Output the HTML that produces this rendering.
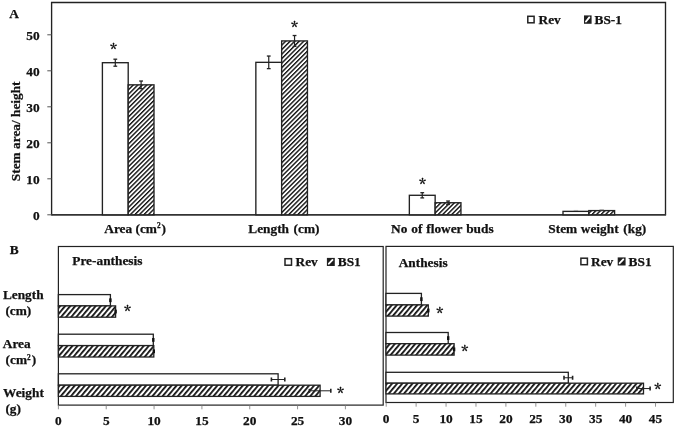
<!DOCTYPE html>
<html><head><meta charset="utf-8"><title>Stem traits chart</title>
<style>html,body{margin:0;padding:0;background:#fff;width:676px;height:428px;overflow:hidden}svg{display:block} text{stroke:#111;stroke-width:0.25px}</style>
</head><body>
<svg width="676" height="428" viewBox="0 0 676 428" font-family='"Liberation Serif", "Times New Roman", serif' fill="#111" stroke-linecap="butt">
<defs>
<pattern id="hatch" patternUnits="userSpaceOnUse" width="3.2" height="10" patternTransform="rotate(45)">
<rect width="3.2" height="10" fill="#fff"/><rect width="1.4" height="10" fill="#111"/></pattern>
<pattern id="hatchB" patternUnits="userSpaceOnUse" width="3.9" height="10" patternTransform="rotate(40)">
<rect width="3.9" height="10" fill="#fff"/><rect width="1.8" height="10" fill="#111"/></pattern>
</defs>
<path d="M51.6,215.4 L51.6,2.5 L665.5,2.5 L665.5,214.8" fill="none" stroke="#222" stroke-width="1.35" stroke-linejoin="miter"/>
<line x1="51.60" y1="214.90" x2="666.10" y2="214.90" stroke="#333" stroke-width="1.6"/>
<line x1="47.30" y1="214.80" x2="51.60" y2="214.80" stroke="#555" stroke-width="1.0"/>
<text x="39.60" y="219.50" text-anchor="end" font-size="13.33" font-weight="bold" >0</text>
<line x1="47.30" y1="178.80" x2="51.60" y2="178.80" stroke="#555" stroke-width="1.0"/>
<text x="39.60" y="183.50" text-anchor="end" font-size="13.33" font-weight="bold" >10</text>
<line x1="47.30" y1="142.80" x2="51.60" y2="142.80" stroke="#555" stroke-width="1.0"/>
<text x="39.60" y="147.50" text-anchor="end" font-size="13.33" font-weight="bold" >20</text>
<line x1="47.30" y1="106.80" x2="51.60" y2="106.80" stroke="#555" stroke-width="1.0"/>
<text x="39.60" y="111.50" text-anchor="end" font-size="13.33" font-weight="bold" >30</text>
<line x1="47.30" y1="70.80" x2="51.60" y2="70.80" stroke="#555" stroke-width="1.0"/>
<text x="39.60" y="75.50" text-anchor="end" font-size="13.33" font-weight="bold" >40</text>
<line x1="47.30" y1="34.80" x2="51.60" y2="34.80" stroke="#555" stroke-width="1.0"/>
<text x="39.60" y="39.50" text-anchor="end" font-size="13.33" font-weight="bold" >50</text>
<text x="0.00" y="0.00" text-anchor="middle" font-size="13.33" font-weight="bold" transform="translate(19.8,131.3) rotate(-90)">Stem area/ height</text>
<text x="9.30" y="18.00" text-anchor="start" font-size="13.33" font-weight="bold" >A</text>
<rect x="527.80" y="16.30" width="6.30" height="6.50" fill="#fff" stroke="#222" stroke-width="1.5"/>
<text x="538.50" y="23.70" text-anchor="start" font-size="13.33" font-weight="bold" >Rev</text>
<rect x="584.80" y="16.20" width="6.00" height="6.80" fill="#1a1a1a" stroke="#222" stroke-width="1.6"/>
<line x1="586.00" y1="21.50" x2="589.30" y2="17.40" stroke="#fff" stroke-width="1.9" stroke-linecap="round"/>
<text x="594.50" y="23.70" text-anchor="start" font-size="13.33" font-weight="bold" >BS-1</text>
<rect x="102.40" y="62.70" width="25.80" height="152.10" fill="#fff" stroke="#222" stroke-width="1.35"/>
<rect x="128.20" y="84.84" width="25.80" height="129.96" fill="url(#hatch)" stroke="#222" stroke-width="1.35"/>
<line x1="115.30" y1="59.20" x2="115.30" y2="66.20" stroke="#222" stroke-width="1.2"/>
<line x1="113.40" y1="59.20" x2="117.20" y2="59.20" stroke="#222" stroke-width="1.3"/>
<line x1="113.40" y1="66.20" x2="117.20" y2="66.20" stroke="#222" stroke-width="1.3"/>
<line x1="141.10" y1="81.04" x2="141.10" y2="88.64" stroke="#222" stroke-width="1.2"/>
<line x1="139.20" y1="81.04" x2="143.00" y2="81.04" stroke="#222" stroke-width="1.3"/>
<line x1="139.20" y1="88.64" x2="143.00" y2="88.64" stroke="#222" stroke-width="1.3"/>
<rect x="255.85" y="62.34" width="25.80" height="152.46" fill="#fff" stroke="#222" stroke-width="1.35"/>
<rect x="281.65" y="40.92" width="25.80" height="173.88" fill="url(#hatch)" stroke="#222" stroke-width="1.35"/>
<line x1="268.75" y1="56.04" x2="268.75" y2="68.64" stroke="#222" stroke-width="1.2"/>
<line x1="266.85" y1="56.04" x2="270.65" y2="56.04" stroke="#222" stroke-width="1.3"/>
<line x1="266.85" y1="68.64" x2="270.65" y2="68.64" stroke="#222" stroke-width="1.3"/>
<line x1="294.55" y1="35.52" x2="294.55" y2="46.32" stroke="#222" stroke-width="1.2"/>
<line x1="292.65" y1="35.52" x2="296.45" y2="35.52" stroke="#222" stroke-width="1.3"/>
<line x1="292.65" y1="46.32" x2="296.45" y2="46.32" stroke="#222" stroke-width="1.3"/>
<rect x="409.35" y="195.29" width="25.80" height="19.51" fill="#fff" stroke="#222" stroke-width="1.35"/>
<rect x="435.15" y="202.74" width="25.80" height="12.06" fill="url(#hatch)" stroke="#222" stroke-width="1.35"/>
<line x1="422.25" y1="192.69" x2="422.25" y2="197.89" stroke="#222" stroke-width="1.2"/>
<line x1="420.35" y1="192.69" x2="424.15" y2="192.69" stroke="#222" stroke-width="1.3"/>
<line x1="420.35" y1="197.89" x2="424.15" y2="197.89" stroke="#222" stroke-width="1.3"/>
<line x1="448.05" y1="201.04" x2="448.05" y2="204.44" stroke="#222" stroke-width="1.2"/>
<line x1="446.15" y1="201.04" x2="449.95" y2="201.04" stroke="#222" stroke-width="1.3"/>
<line x1="446.15" y1="204.44" x2="449.95" y2="204.44" stroke="#222" stroke-width="1.3"/>
<rect x="563.00" y="211.38" width="25.80" height="3.42" fill="#fff" stroke="#222" stroke-width="1.35"/>
<rect x="588.80" y="210.59" width="25.80" height="4.21" fill="url(#hatch)" stroke="#222" stroke-width="1.35"/>
<line x1="573.70" y1="210.48" x2="578.10" y2="210.48" stroke="#999" stroke-width="0.9"/>
<line x1="599.50" y1="209.69" x2="603.90" y2="209.69" stroke="#999" stroke-width="0.9"/>
<text x="113.50" y="55.40" text-anchor="middle" font-size="14.5" font-weight="bold" font-family="Noto Serif CJK SC">*</text>
<text x="294.50" y="33.30" text-anchor="middle" font-size="14.5" font-weight="bold" font-family="Noto Serif CJK SC">*</text>
<text x="422.40" y="190.10" text-anchor="middle" font-size="14.5" font-weight="bold" font-family="Noto Serif CJK SC">*</text>
<text x="104.30" y="232.50" text-anchor="start" font-size="13.33" font-weight="bold" >Area (cm<tspan font-size="7.3" dy="-4.8">2</tspan><tspan dy="4.8" dx="0.9">)</tspan></text>
<text x="248.30" y="232.50" text-anchor="start" font-size="13.33" font-weight="bold" >Length<tspan dx="1.2"> </tspan>(cm)</text>
<text x="391.00" y="232.50" text-anchor="start" font-size="13.33" font-weight="bold" word-spacing="0.6">No of flower buds</text>
<text x="548.30" y="232.50" text-anchor="start" font-size="13.33" font-weight="bold" >Stem<tspan dx="0.3"> </tspan>weight<tspan dx="1.4"> </tspan>(kg)</text>
<text x="9.80" y="253.90" text-anchor="start" font-size="13.33" font-weight="bold" >B</text>
<rect x="58.40" y="246.50" width="324.80" height="158.60" fill="none" stroke="#222" stroke-width="1.2"/>
<line x1="58.40" y1="405.10" x2="58.40" y2="409.30" stroke="#777" stroke-width="0.8"/>
<text x="58.40" y="425.30" text-anchor="middle" font-size="13.33" font-weight="bold" >0</text>
<line x1="106.23" y1="405.10" x2="106.23" y2="409.30" stroke="#777" stroke-width="0.8"/>
<text x="106.23" y="425.30" text-anchor="middle" font-size="13.33" font-weight="bold" >5</text>
<line x1="154.07" y1="405.10" x2="154.07" y2="409.30" stroke="#777" stroke-width="0.8"/>
<text x="154.07" y="425.30" text-anchor="middle" font-size="13.33" font-weight="bold" >10</text>
<line x1="201.91" y1="405.10" x2="201.91" y2="409.30" stroke="#777" stroke-width="0.8"/>
<text x="201.91" y="425.30" text-anchor="middle" font-size="13.33" font-weight="bold" >15</text>
<line x1="249.74" y1="405.10" x2="249.74" y2="409.30" stroke="#777" stroke-width="0.8"/>
<text x="249.74" y="425.30" text-anchor="middle" font-size="13.33" font-weight="bold" >20</text>
<line x1="297.57" y1="405.10" x2="297.57" y2="409.30" stroke="#777" stroke-width="0.8"/>
<text x="297.57" y="425.30" text-anchor="middle" font-size="13.33" font-weight="bold" >25</text>
<line x1="345.41" y1="405.10" x2="345.41" y2="409.30" stroke="#777" stroke-width="0.8"/>
<text x="345.41" y="425.30" text-anchor="middle" font-size="13.33" font-weight="bold" >30</text>
<rect x="58.40" y="294.60" width="52.00" height="11.30" fill="#fff" stroke="#222" stroke-width="1.3"/>
<rect x="58.40" y="305.90" width="57.20" height="11.30" fill="url(#hatchB)" stroke="#222" stroke-width="1.3"/>
<rect x="109.20" y="298.35" width="2.4" height="3.8" fill="#111"/>
<rect x="114.40" y="309.65" width="2.4" height="3.8" fill="#111"/>
<rect x="58.40" y="334.20" width="94.90" height="11.40" fill="#fff" stroke="#222" stroke-width="1.3"/>
<rect x="58.40" y="345.60" width="95.40" height="11.40" fill="url(#hatchB)" stroke="#222" stroke-width="1.3"/>
<rect x="152.10" y="338.00" width="2.4" height="3.8" fill="#111"/>
<rect x="152.60" y="349.40" width="2.4" height="3.8" fill="#111"/>
<rect x="58.40" y="373.80" width="219.70" height="11.40" fill="#fff" stroke="#222" stroke-width="1.3"/>
<rect x="58.40" y="385.20" width="261.70" height="11.20" fill="url(#hatchB)" stroke="#222" stroke-width="1.3"/>
<line x1="271.40" y1="379.50" x2="284.80" y2="379.50" stroke="#222" stroke-width="1.0"/>
<line x1="271.40" y1="377.50" x2="271.40" y2="381.50" stroke="#222" stroke-width="1.6"/>
<line x1="284.80" y1="377.50" x2="284.80" y2="381.50" stroke="#222" stroke-width="1.6"/>
<line x1="309.40" y1="390.80" x2="330.80" y2="390.80" stroke="#222" stroke-width="1.0"/>
<line x1="309.40" y1="388.80" x2="309.40" y2="392.80" stroke="#222" stroke-width="1.6"/>
<line x1="330.80" y1="388.80" x2="330.80" y2="392.80" stroke="#222" stroke-width="1.6"/>
<text x="72.30" y="264.50" text-anchor="start" font-size="13.33" font-weight="bold" >Pre-anthesis</text>
<rect x="285.00" y="258.70" width="6.50" height="6.50" fill="#fff" stroke="#222" stroke-width="1.5"/>
<text x="295.50" y="266.30" text-anchor="start" font-size="13.33" font-weight="bold" >Rev</text>
<rect x="327.70" y="258.70" width="6.30" height="6.50" fill="#1a1a1a" stroke="#222" stroke-width="1.6"/>
<line x1="328.90" y1="263.70" x2="332.50" y2="259.90" stroke="#fff" stroke-width="1.9" stroke-linecap="round"/>
<text x="337.80" y="266.30" text-anchor="start" font-size="13.33" font-weight="bold" >BS1</text>
<text x="127.60" y="316.80" text-anchor="middle" font-size="14.5" font-weight="bold" font-family="Noto Serif CJK SC">*</text>
<text x="340.60" y="398.90" text-anchor="middle" font-size="14.5" font-weight="bold" font-family="Noto Serif CJK SC">*</text>
<rect x="386.00" y="246.40" width="287.30" height="156.10" fill="none" stroke="#222" stroke-width="1.2"/>
<line x1="386.20" y1="402.50" x2="386.20" y2="406.70" stroke="#777" stroke-width="0.8"/>
<text x="386.20" y="422.70" text-anchor="middle" font-size="13.33" font-weight="bold" >0</text>
<line x1="416.12" y1="402.50" x2="416.12" y2="406.70" stroke="#777" stroke-width="0.8"/>
<text x="416.12" y="422.70" text-anchor="middle" font-size="13.33" font-weight="bold" >5</text>
<line x1="446.05" y1="402.50" x2="446.05" y2="406.70" stroke="#777" stroke-width="0.8"/>
<text x="446.05" y="422.70" text-anchor="middle" font-size="13.33" font-weight="bold" >10</text>
<line x1="475.98" y1="402.50" x2="475.98" y2="406.70" stroke="#777" stroke-width="0.8"/>
<text x="475.98" y="422.70" text-anchor="middle" font-size="13.33" font-weight="bold" >15</text>
<line x1="505.90" y1="402.50" x2="505.90" y2="406.70" stroke="#777" stroke-width="0.8"/>
<text x="505.90" y="422.70" text-anchor="middle" font-size="13.33" font-weight="bold" >20</text>
<line x1="535.83" y1="402.50" x2="535.83" y2="406.70" stroke="#777" stroke-width="0.8"/>
<text x="535.83" y="422.70" text-anchor="middle" font-size="13.33" font-weight="bold" >25</text>
<line x1="565.75" y1="402.50" x2="565.75" y2="406.70" stroke="#777" stroke-width="0.8"/>
<text x="565.75" y="422.70" text-anchor="middle" font-size="13.33" font-weight="bold" >30</text>
<line x1="595.67" y1="402.50" x2="595.67" y2="406.70" stroke="#777" stroke-width="0.8"/>
<text x="595.67" y="422.70" text-anchor="middle" font-size="13.33" font-weight="bold" >35</text>
<line x1="625.60" y1="402.50" x2="625.60" y2="406.70" stroke="#777" stroke-width="0.8"/>
<text x="625.60" y="422.70" text-anchor="middle" font-size="13.33" font-weight="bold" >40</text>
<line x1="655.52" y1="402.50" x2="655.52" y2="406.70" stroke="#777" stroke-width="0.8"/>
<text x="655.52" y="422.70" text-anchor="middle" font-size="13.33" font-weight="bold" >45</text>
<rect x="386.00" y="293.40" width="35.40" height="11.50" fill="#fff" stroke="#222" stroke-width="1.3"/>
<rect x="386.00" y="304.90" width="42.30" height="11.20" fill="url(#hatchB)" stroke="#222" stroke-width="1.3"/>
<rect x="420.20" y="297.25" width="2.4" height="3.8" fill="#111"/>
<rect x="427.10" y="308.60" width="2.4" height="3.8" fill="#111"/>
<rect x="386.00" y="332.50" width="62.20" height="11.20" fill="#fff" stroke="#222" stroke-width="1.3"/>
<rect x="386.00" y="343.70" width="68.10" height="11.40" fill="url(#hatchB)" stroke="#222" stroke-width="1.3"/>
<rect x="447.00" y="336.20" width="2.4" height="3.8" fill="#111"/>
<rect x="452.90" y="347.50" width="2.4" height="3.8" fill="#111"/>
<rect x="386.00" y="372.30" width="182.30" height="10.90" fill="#fff" stroke="#222" stroke-width="1.3"/>
<rect x="386.00" y="383.20" width="257.50" height="10.70" fill="url(#hatchB)" stroke="#222" stroke-width="1.3"/>
<line x1="564.00" y1="377.75" x2="572.60" y2="377.75" stroke="#222" stroke-width="1.0"/>
<line x1="564.00" y1="375.75" x2="564.00" y2="379.75" stroke="#222" stroke-width="1.6"/>
<line x1="572.60" y1="375.75" x2="572.60" y2="379.75" stroke="#222" stroke-width="1.6"/>
<line x1="636.90" y1="388.55" x2="650.10" y2="388.55" stroke="#222" stroke-width="1.0"/>
<line x1="636.90" y1="386.55" x2="636.90" y2="390.55" stroke="#222" stroke-width="1.6"/>
<line x1="650.10" y1="386.55" x2="650.10" y2="390.55" stroke="#222" stroke-width="1.6"/>
<text x="398.70" y="266.60" text-anchor="start" font-size="13.33" font-weight="bold" >Anthesis</text>
<rect x="580.90" y="258.20" width="6.50" height="6.50" fill="#fff" stroke="#222" stroke-width="1.5"/>
<text x="591.00" y="265.80" text-anchor="start" font-size="13.33" font-weight="bold" >Rev</text>
<rect x="618.50" y="258.20" width="6.30" height="6.50" fill="#1a1a1a" stroke="#222" stroke-width="1.6"/>
<line x1="619.70" y1="263.20" x2="623.30" y2="259.40" stroke="#fff" stroke-width="1.9" stroke-linecap="round"/>
<text x="628.60" y="265.80" text-anchor="start" font-size="13.33" font-weight="bold" >BS1</text>
<text x="439.80" y="319.00" text-anchor="middle" font-size="14.5" font-weight="bold" font-family="Noto Serif CJK SC">*</text>
<text x="464.80" y="357.00" text-anchor="middle" font-size="14.5" font-weight="bold" font-family="Noto Serif CJK SC">*</text>
<text x="657.80" y="395.00" text-anchor="middle" font-size="14.5" font-weight="bold" font-family="Noto Serif CJK SC">*</text>
<text x="2.90" y="298.90" text-anchor="start" font-size="13.33" font-weight="bold" >Length</text>
<text x="5.40" y="315.30" text-anchor="start" font-size="13.33" font-weight="bold" >(cm)</text>
<text x="2.80" y="347.90" text-anchor="start" font-size="13.33" font-weight="bold" >Area</text>
<text x="5.60" y="364.40" text-anchor="start" font-size="13.33" font-weight="bold" >(cm<tspan font-size="7.3" dy="-4.8">2</tspan><tspan dy="4.8" dx="0.9">)</tspan></text>
<text x="3.10" y="396.60" text-anchor="start" font-size="13.33" font-weight="bold" >Weight</text>
<text x="5.40" y="412.90" text-anchor="start" font-size="13.33" font-weight="bold" >(g)</text>
</svg>
</body></html>
